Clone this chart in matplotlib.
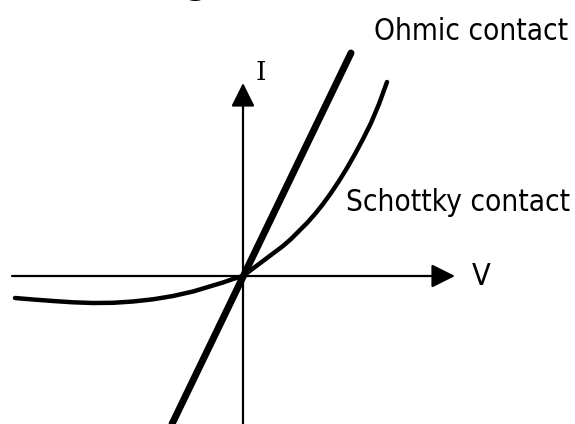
import matplotlib
matplotlib.use("Agg")
import matplotlib.pyplot as plt

# Data (arbitrary units; origin at the axes crossing)
ohmic_v = [-71, 108]
ohmic_i = [-148, 223]

schottky_v = [-228, -210, -190, -170, -150, -130, -110, -90, -70, -50, -35,
              -20, -10, 0, 8, 16, 24, 32, 40, 48, 56, 64, 72, 80, 88, 96,
              104, 112, 120, 128, 136, 144]
schottky_i = [-22, -23.5, -25, -26.3, -27, -26.8, -25.5, -23.3, -20, -15.5,
              -11, -6.5, -3, 0, 6, 12, 18, 24, 30, 37, 45, 53, 62, 72,
              83, 95, 108, 122, 137, 153, 172, 194]

v_axis = [-231, 212]
i_axis = [-148, 193]

labels = {"ohmic": "Ohmic contact", "schottky": "Schottky contact",
          "v": "V", "i": "I", "title_fragment": "g"}

fig = plt.figure(figsize=(5.75, 4.24), dpi=100)
ax = fig.add_axes([0, 0, 1, 1])
ax.set_xlim(-243, 332)
ax.set_ylim(-148, 276)
ax.axis("off")

arrow = dict(arrowstyle="-|>,head_length=0.72,head_width=0.36", lw=1.6,
             color="black", shrinkA=0, shrinkB=0, mutation_scale=20)
ax.annotate("", xy=(v_axis[1], 0), xytext=(v_axis[0], 0), arrowprops=arrow)
ax.annotate("", xy=(0, i_axis[1]), xytext=(0, i_axis[0]), arrowprops=arrow)

ax.plot(schottky_v, schottky_i, color="black", lw=3.2,
        solid_capstyle="round", solid_joinstyle="round")
ax.plot(ohmic_v, ohmic_i, color="black", lw=5.0, solid_capstyle="round")

sans = dict(family="DejaVu Sans", fontstretch="condensed", color="black")
ax.text(325, 236, labels["ohmic"], ha="right", va="baseline", fontsize=21.3, **sans)
ax.text(327, 65, labels["schottky"], ha="right", va="baseline", fontsize=21.3, **sans)
ax.text(229, -9, labels["v"], ha="left", va="baseline", fontsize=22, **sans)
ax.text(18, 196, labels["i"], ha="center", va="baseline", fontsize=19,
        family="DejaVu Serif", color="black")
# fragment of a title that is cropped off above the picture
ax.text(-47, 282, labels["title_fragment"], ha="center", va="baseline",
        fontsize=24, fontweight="bold", family="DejaVu Sans", color="black",
        clip_on=False)

fig.savefig("out.png", dpi=100)
